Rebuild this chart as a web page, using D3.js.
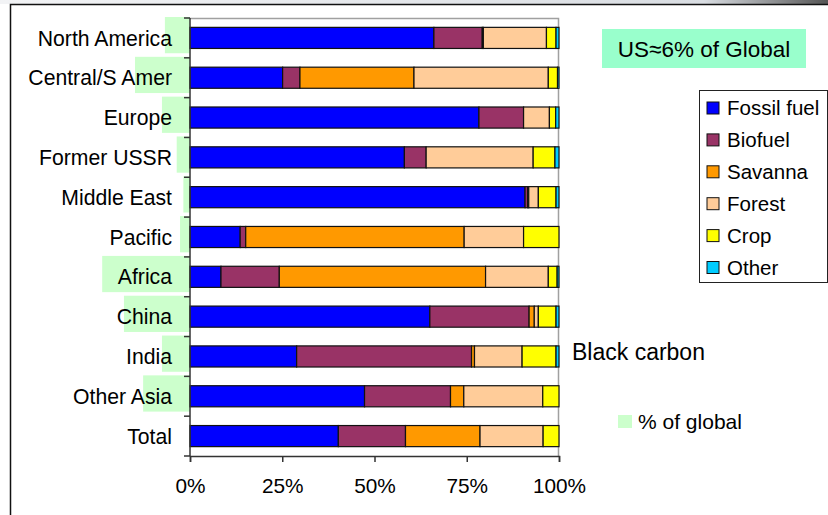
<!DOCTYPE html>
<html>
<head>
<meta charset="utf-8">
<script src="https://cdn.jsdelivr.net/npm/d3@7"></script>
<style>
  body { margin: 0; background: #fff; }
  svg text { font-family: "Liberation Sans", Arial, sans-serif; fill: #000; }
</style>
</head>
<body>
<div id="chart"></div>
<script>
// data (percent of each region's total)
const categories = ["North America", "Central/S Amer", "Europe", "Former USSR", "Middle East",
  "Pacific", "Africa", "China", "India", "Other Asia", "Total"];
const seriesNames = ["Fossil fuel", "Biofuel", "Savanna", "Forest", "Crop", "Other"];
const fossil  = [66.1, 25.1, 78.3, 58.1, 90.8, 13.6,  8.4, 65.0, 28.9, 47.3, 40.2];
const biofuel = [13.1,  4.7, 12.1,  5.9,  0.7,  1.5, 15.8, 26.9, 47.4, 23.3, 18.2];
const savanna = [ 0.3, 30.9,  0.0,  0.0,  0.3, 59.2, 55.9,  1.4,  0.8,  3.6, 20.2];
const forest  = [17.1, 36.4,  7.0, 29.0,  2.6, 16.1, 17.0,  1.1, 12.9, 21.4, 17.1];
const crop    = [ 2.6,  2.5,  1.7,  5.9,  4.8,  9.6,  2.4,  4.8,  9.2,  4.4,  4.3];
const other   = [ 0.8,  0.4,  0.9,  1.1,  0.8,  0.0,  0.5,  0.8,  0.8,  0.0,  0.0];
// share of global emissions, drawn leftwards from the axis
const pctGlobal = [6.8, 14.9, 7.6, 3.6, 1.8, 2.7, 23.8, 17.9, 7.6, 12.7, 0];
const xTicks = [0, 25, 50, 75, 100];

const colors = ["#0000ff", "#993366", "#ff9900", "#ffcc99", "#ffff00", "#00ccff"];

const W = 828, H = 515;
const plot = { left: 190, right: 559, top: 18, bottom: 456 };

const svg = d3.select("#chart").append("svg")
  .attr("width", W).attr("height", H);

// slide background strip + frame
const grad = svg.append("defs").append("linearGradient").attr("id", "topgrad");
grad.append("stop").attr("offset", "0%").attr("stop-color", "#f2f3f5");
grad.append("stop").attr("offset", "85%").attr("stop-color", "#d9dde2");
grad.append("stop").attr("offset", "100%").attr("stop-color", "#555");
svg.append("rect").attr("x", 0).attr("y", 0).attr("width", W).attr("height", 4)
  .attr("fill", "url(#topgrad)");
svg.append("path").attr("d", "M10.5,515 V4.5 H828")
  .attr("fill", "none").attr("stroke", "#111").attr("stroke-width", 1.5);

const x = d3.scaleLinear().domain([0, 100]).range([plot.left, plot.right]);
const y = d3.scaleBand().domain(categories).range([plot.top, plot.bottom]);
const bw = y.bandwidth();

// rows for stacking
const rows = categories.map((c, i) => ({
  cat: c,
  "Fossil fuel": fossil[i], "Biofuel": biofuel[i], "Savanna": savanna[i],
  "Forest": forest[i], "Crop": crop[i], "Other": other[i]
}));
const stacked = d3.stack().keys(seriesNames)(rows);

// green "% of global" bars, going left from 0
const lenScale = d3.scaleLinear().domain([0, 100]).range([0, plot.right - plot.left]);
svg.append("g").selectAll("rect")
  .data(categories)
  .join("rect")
  .attr("x", (d, i) => plot.left - lenScale(pctGlobal[i]))
  .attr("y", d => y(d) - 1)
  .attr("width", (d, i) => lenScale(pctGlobal[i]))
  .attr("height", bw * 0.91)
  .attr("fill", "#ccffcc");

// plot area border (gray top/right)
svg.append("path")
  .attr("d", `M${plot.left},${plot.top + 0.5} H${plot.right - 0.5} V${plot.bottom}`)
  .attr("fill", "none").attr("stroke", "#a0a0a0").attr("stroke-width", 1.5);

// stacked bars
const barH = bw * 0.53;
svg.append("g").selectAll("g")
  .data(stacked)
  .join("g")
  .attr("fill", (d, i) => colors[i])
  .selectAll("rect")
  .data(d => d)
  .join("rect")
  .attr("x", d => x(d[0]))
  .attr("y", d => y(d.data.cat) + (bw - barH) / 2)
  .attr("width", d => x(d[1]) - x(d[0]))
  .attr("height", barH)
  .attr("stroke", "#111")
  .attr("stroke-width", 1.2);

// left axis with ticks at band edges
const yEdges = categories.map(c => y(c)).concat([plot.bottom]);
const axisG = svg.append("g");
axisG.append("line")
  .attr("x1", plot.left).attr("x2", plot.left)
  .attr("y1", plot.top).attr("y2", plot.bottom)
  .attr("stroke", "#333").attr("stroke-width", 1.5);
axisG.selectAll("line.tk")
  .data(yEdges)
  .join("line").attr("class", "tk")
  .attr("x1", plot.left - 6).attr("x2", plot.left)
  .attr("y1", d => d).attr("y2", d => d)
  .attr("stroke", "#333").attr("stroke-width", 1.5);

svg.append("g").selectAll("text")
  .data(categories)
  .join("text")
  .attr("x", 172)
  .attr("y", d => y(d) + bw / 2)
  .attr("dy", "0.36em")
  .attr("text-anchor", "end")
  .style("font-size", "21.2px")
  .text(d => d);

// bottom axis
const xAxis = svg.append("g")
  .attr("transform", `translate(0,${plot.bottom})`)
  .call(d3.axisBottom(x).tickValues(xTicks).tickSize(6).tickPadding(16).tickFormat(d => d + "%"));
xAxis.select(".domain").attr("stroke", "#333").attr("stroke-width", 1.5);
xAxis.selectAll(".tick line").attr("stroke", "#333").attr("stroke-width", 1.5);
xAxis.selectAll(".tick text")
  .style("font-size", "20.8px")
  .style("font-family", "'Liberation Sans', Arial, sans-serif")
  .attr("fill", "#000");

// US note box
svg.append("rect").attr("x", 602).attr("y", 29).attr("width", 204).attr("height", 39)
  .attr("fill", "#99ffcc");
svg.append("text").attr("x", 704).attr("y", 49).attr("dy", "0.36em")
  .attr("text-anchor", "middle").style("font-size", "22.5px").text("US\u22486% of Global");

// legend
const leg = svg.append("g");
leg.append("rect").attr("x", 699.5).attr("y", 90.5).attr("width", 128).attr("height", 192)
  .attr("fill", "#fff").attr("stroke", "#222").attr("stroke-width", 1);
const legItems = leg.selectAll("g.item")
  .data(seriesNames)
  .join("g").attr("class", "item")
  .attr("transform", (d, i) => `translate(707,${108 + i * 31.9})`);
legItems.append("rect")
  .attr("x", 0).attr("y", -6).attr("width", 12).attr("height", 12)
  .attr("fill", (d, i) => colors[i]).attr("stroke", "#111").attr("stroke-width", 1);
legItems.append("text")
  .attr("x", 20).attr("y", 0).attr("dy", "0.36em")
  .style("font-size", "20.5px").text(d => d);

// annotations
svg.append("text").attr("x", 572).attr("y", 352).attr("dy", "0.36em")
  .style("font-size", "23px").text("Black carbon");
svg.append("rect").attr("x", 618).attr("y", 415).attr("width", 14).attr("height", 13)
  .attr("fill", "#ccffcc");
svg.append("text").attr("x", 638).attr("y", 421).attr("dy", "0.36em")
  .style("font-size", "21px").text("% of global");
</script>
</body>
</html>
